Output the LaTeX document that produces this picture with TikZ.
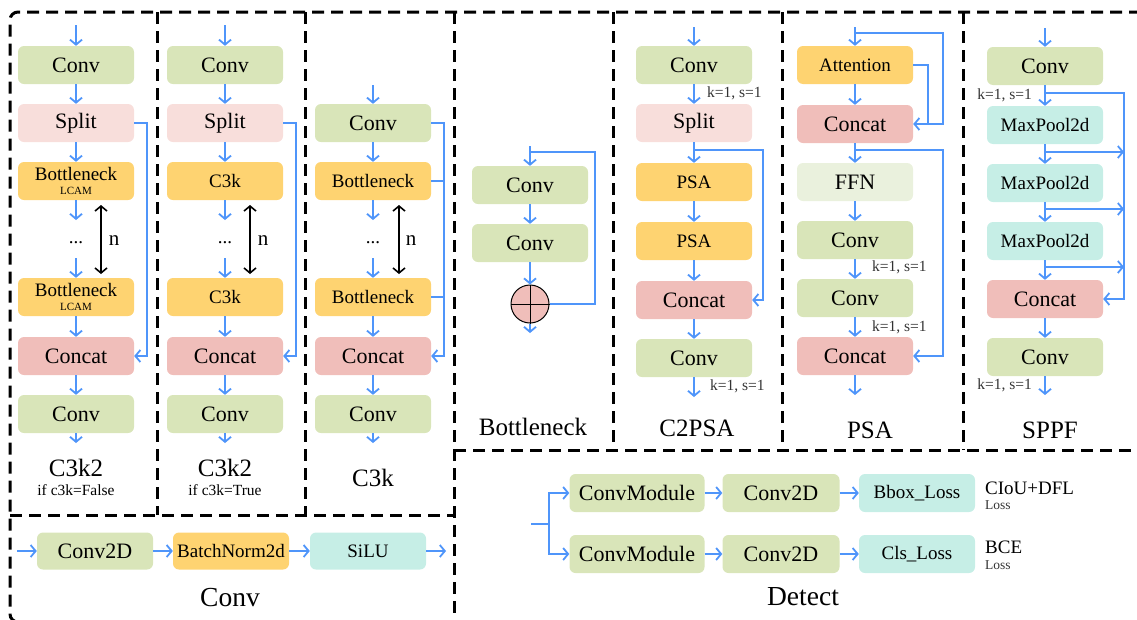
\documentclass[tikz,border=0pt]{standalone}
\usepackage{fontspec}
\setmainfont{Liberation Serif}
\usetikzlibrary{arrows.meta}

\definecolor{cconv}{HTML}{D9E5B9}
\definecolor{csplit}{HTML}{F8DEDB}
\definecolor{cbott}{HTML}{FED371}
\definecolor{cconcat}{HTML}{F0BEBA}
\definecolor{ccyan}{HTML}{C6EEE6}
\definecolor{cffn}{HTML}{EAF1DD}
\definecolor{ablue}{HTML}{4F95FA}
\definecolor{tgray}{HTML}{333333}

% font sizes (1pt = 1px of the final picture)
\newcommand\fza{\fontsize{22}{24}\selectfont}
\newcommand\fzb{\fontsize{19}{21}\selectfont}
\newcommand\fzt{\fontsize{25}{27}\selectfont}
\newcommand\fzT{\fontsize{27.5}{30}\selectfont}
\newcommand\fzk{\fontsize{15.5}{17}\selectfont}
\newcommand\fzs{\fontsize{11}{12}\selectfont}
\newcommand\fzl{\fontsize{13.5}{15}\selectfont}

\begin{document}
\begin{tikzpicture}[x=1pt,y=-1pt,
  blk/.style={rounded corners=6pt, minimum width=116pt, minimum height=38pt,
              inner sep=0pt, text=black, font=\fza},
  small/.style={font=\fzb},
  conv/.style={blk, fill=cconv},
  split/.style={blk, fill=csplit},
  bott/.style={blk, fill=cbott, small},
  concat/.style={blk, fill=cconcat},
  cyan/.style={blk, fill=ccyan, small},
  ffn/.style={blk, fill=cffn},
  barrow/.style={draw=ablue, line width=1.8pt, -{Straight Barb[length=5pt, width=12pt, line width=1.8pt]}},
  bline/.style={draw=ablue, line width=1.8pt},
  karrow/.style={draw=black, line width=1.6pt, {Straight Barb[length=5pt, width=12pt, line width=1.6pt]}-{Straight Barb[length=5pt, width=12pt, line width=1.6pt]}},
  frame/.style={draw=black, line width=3pt, dash pattern=on 12pt off 7pt},
  ttl/.style={font=\fzt, inner sep=0pt},
  sub/.style={font=\fzk, inner sep=0pt},
  kss/.style={font=\fzk, text=tgray, inner sep=0pt},
  dots/.style={font=\fzb, inner sep=0pt},
  nlab/.style={font=\fontsize{21}{22}\selectfont, inner sep=0pt}
]
\useasboundingbox (0,0) rectangle (1137,619);
\clip (0,0) rectangle (1137,619);

% ---------- dashed frames ----------
\draw[frame, rounded corners=8pt] (1160,12) -- (10,12) -- (10,622) -- (1160,622);
\draw[frame] (157,12) -- (157,515);
\draw[frame] (305,12) -- (305,515);
\draw[frame] (454,12) -- (454,622);
\draw[frame] (613,12) -- (613,450);
\draw[frame] (782,12) -- (782,450);
\draw[frame] (963,12) -- (963,450);
\draw[frame] (10,515) -- (454,515);
\draw[frame] (454,450) -- (1160,450);

% ---------- C3k2 (c3k=False) ----------
\coordinate (a0) at (76,25);
\node[conv]   (a1) at (76,65)  {Conv};
\node[split]  (a2) at (76,123) {Split};
\node[bott, align=center] (a3) at (76,181) {Bottleneck\\[-7pt]{\fzs LCAM}};
\node[dots]   (a3d) at (76,243) {...};
\node[bott, align=center] (a4) at (76,297) {Bottleneck\\[-7pt]{\fzs LCAM}};
\node[concat] (a5) at (76,356) {Concat};
\node[conv]   (a6) at (76,414) {Conv};
\coordinate (a7) at (76,443);
\coordinate (a3e) at (76,220);
\coordinate (a4s) at (76,258);
\draw[barrow] (a0) -- (a1.north);
\draw[barrow] (a1.south) -- (a2.north);
\draw[barrow] (a2.south) -- (a3.north);
\draw[barrow] (a3.south) -- (a3e);
\draw[barrow] (a4s) -- (a4.north);
\draw[barrow] (a4.south) -- (a5.north);
\draw[barrow] (a5.south) -- (a6.north);
\draw[barrow] (a6.south) -- (a7);
\draw[barrow] (a2.east) -- ++(13,0) |- (a5.east);
\coordinate (an1) at (101,205);
\coordinate (an2) at (101,274);
\draw[karrow] (an1) -- (an2);
\node[nlab] (an) at (114,241) {n};
\node[ttl] (at) at (76,468) {C3k2};
\node[sub] (as) at (76,490) {if c3k=False};

% ---------- C3k2 (c3k=True) ----------
\coordinate (b0) at (225,25);
\node[conv]   (b1) at (225,65)  {Conv};
\node[split]  (b2) at (225,123) {Split};
\node[bott]   (b3) at (225,181) {C3k};
\node[dots]   (b3d) at (225,243) {...};
\node[bott]   (b4) at (225,297) {C3k};
\node[concat] (b5) at (225,356) {Concat};
\node[conv]   (b6) at (225,414) {Conv};
\coordinate (b7) at (225,443);
\coordinate (b3e) at (225,220);
\coordinate (b4s) at (225,258);
\draw[barrow] (b0) -- (b1.north);
\draw[barrow] (b1.south) -- (b2.north);
\draw[barrow] (b2.south) -- (b3.north);
\draw[barrow] (b3.south) -- (b3e);
\draw[barrow] (b4s) -- (b4.north);
\draw[barrow] (b4.south) -- (b5.north);
\draw[barrow] (b5.south) -- (b6.north);
\draw[barrow] (b6.south) -- (b7);
\draw[barrow] (b2.east) -- ++(13,0) |- (b5.east);
\coordinate (bn1) at (250,205);
\coordinate (bn2) at (250,274);
\draw[karrow] (bn1) -- (bn2);
\node[nlab] (bn) at (263,241) {n};
\node[ttl] (bt) at (225,468) {C3k2};
\node[sub] (bs) at (225,490) {if c3k=True};

% ---------- C3k ----------
\coordinate (c0) at (373,85);
\node[conv]   (c1) at (373,123) {Conv};
\node[bott]   (c2) at (373,181) {Bottleneck};
\node[dots]   (c2d) at (373,243) {...};
\node[bott]   (c3) at (373,297) {Bottleneck};
\node[concat] (c4) at (373,356) {Concat};
\node[conv]   (c5) at (373,414) {Conv};
\coordinate (c6) at (373,443);
\coordinate (c2e) at (373,220);
\coordinate (c3s) at (373,258);
\coordinate (cx) at (444,0);
\draw[barrow] (c0) -- (c1.north);
\draw[barrow] (c1.south) -- (c2.north);
\draw[barrow] (c2.south) -- (c2e);
\draw[barrow] (c3s) -- (c3.north);
\draw[barrow] (c3.south) -- (c4.north);
\draw[barrow] (c4.south) -- (c5.north);
\draw[barrow] (c5.south) -- (c6);
\draw[barrow] (c1.east) -- (c1.east -| cx) |- (c4.east);
\draw[bline] (c2.east) -- (c2.east -| cx);
\draw[bline] (c3.east) -- (c3.east -| cx);
\coordinate (cn1) at (399,205);
\coordinate (cn2) at (399,274);
\draw[karrow] (cn1) -- (cn2);
\node[nlab] (cn) at (411,241) {n};
\node[ttl] (ct) at (373,478) {C3k};

% ---------- Bottleneck ----------
\coordinate (d0) at (530,146);
\coordinate (dj) at (530,152);
\node[conv] (d1) at (530,185) {Conv};
\node[conv] (d2) at (530,243) {Conv};
\node[circle, draw=black, line width=1pt, fill=cconcat, minimum size=38pt, inner sep=0pt] (dp) at (530,304) {};
\draw[line width=1pt] (dp.north) -- (dp.south) (dp.west) -- (dp.east);
\coordinate (d3) at (530,333);
\draw[barrow] (d0) -- (d1.north);
\draw[barrow] (d1.south) -- (d2.north);
\draw[barrow] (d2.south) -- (dp.north);
\draw[barrow] (dp.south) -- (d3);
\draw[bline] (dj) -- (595,152) |- (dp.east);
\node[ttl] (dt) at (533,427) {Bottleneck};

% ---------- C2PSA ----------
\coordinate (p0) at (694,27);
\node[conv]   (p1) at (694,65)  {Conv};
\node[split]  (p2) at (694,123) {Split};
\node[bott]   (p3) at (694,182) {PSA};
\node[bott]   (p4) at (694,241) {PSA};
\node[concat] (p5) at (694,300) {Concat};
\node[conv]   (p6) at (694,358) {Conv};
\coordinate (p7) at (694,397);
\coordinate (pj) at (694,150);
\draw[barrow] (p0) -- (p1.north);
\draw[barrow] (p1.south) -- (p2.north);
\draw[barrow] (p2.south) -- (p3.north);
\draw[barrow] (p3.south) -- (p4.north);
\draw[barrow] (p4.south) -- (p5.north);
\draw[barrow] (p5.south) -- (p6.north);
\draw[barrow] (p6.south) -- (p7);
\draw[barrow] (pj) -- (763,150) |- (p5.east);
\node[kss, anchor=west] (pk1) at (707,93) {k=1, s=1};
\node[kss, anchor=west] (pk2) at (710,386) {k=1, s=1};
\node[ttl] (pt) at (697,428) {C2PSA};

% ---------- PSA ----------
\coordinate (q0) at (855,27);
\coordinate (qj0) at (855,33);
\node[bott]   (q1) at (855,65)  {Attention};
\node[concat] (q2) at (855,124) {Concat};
\node[ffn]    (q3) at (855,182) {FFN};
\node[conv]   (q4) at (855,240) {Conv};
\node[conv]   (q5) at (855,298) {Conv};
\node[concat] (q6) at (855,356) {Concat};
\coordinate (q7) at (855,395);
\coordinate (qj1) at (855,150);
\draw[barrow] (q0) -- (q1.north);
\draw[barrow] (q1.south) -- (q2.north);
\draw[barrow] (q2.south) -- (q3.north);
\draw[barrow] (q3.south) -- (q4.north);
\draw[barrow] (q4.south) -- (q5.north);
\draw[barrow] (q5.south) -- (q6.north);
\draw[barrow] (q6.south) -- (q7);
\draw[barrow] (qj0) -- (943,33) |- (q2.east);
\draw[bline] (q1.east) -- (928,65) -- (928,124);
\draw[barrow] (qj1) -- (943,150) |- (q6.east);
\node[kss, anchor=west] (qk1) at (872,267) {k=1, s=1};
\node[kss, anchor=west] (qk2) at (872,327) {k=1, s=1};
\node[ttl] (qt) at (870,430) {PSA};

% ---------- SPPF ----------
\coordinate (s0) at (1045,28);
\node[conv]   (s1) at (1045,66)  {Conv};
\node[cyan]   (s2) at (1045,125) {MaxPool2d};
\node[cyan]   (s3) at (1045,183) {MaxPool2d};
\node[cyan]   (s4) at (1045,241) {MaxPool2d};
\node[concat] (s5) at (1045,299) {Concat};
\node[conv]   (s6) at (1045,357) {Conv};
\coordinate (s7) at (1045,395);
\coordinate (sj0) at (1045,93);
\coordinate (sj1) at (1045,152);
\coordinate (sj2) at (1045,209);
\coordinate (sj3) at (1045,267);
\coordinate (sx) at (1124,0);
\draw[barrow] (s0) -- (s1.north);
\draw[barrow] (s1.south) -- (s2.north);
\draw[barrow] (s2.south) -- (s3.north);
\draw[barrow] (s3.south) -- (s4.north);
\draw[barrow] (s4.south) -- (s5.north);
\draw[barrow] (s5.south) -- (s6.north);
\draw[barrow] (s6.south) -- (s7);
\draw[barrow] (sj0) -- (sj0 -| sx) |- (s5.east);
\draw[barrow] (sj1) -- (sj1 -| sx);
\draw[barrow] (sj2) -- (sj2 -| sx);
\draw[barrow] (sj3) -- (sj3 -| sx);
\node[kss, anchor=east] (sk1) at (1032,95) {k=1, s=1};
\node[kss, anchor=east] (sk2) at (1032,385) {k=1, s=1};
\node[ttl] (st) at (1050,430) {SPPF};

% ---------- Conv ----------
\coordinate (r0) at (17,551);
\node[conv, minimum height=37pt] (r1) at (95,551)  {Conv2D};
\node[bott, minimum height=37pt] (r2) at (231,551) {BatchNorm2d};
\node[cyan, minimum height=37pt] (r3) at (368,551) {SiLU};
\coordinate (r4) at (446,551);
\draw[barrow] (r0) -- (r1.west);
\draw[barrow] (r1.east) -- (r2.west);
\draw[barrow] (r2.east) -- (r3.west);
\draw[barrow] (r3.east) -- (r4);
\node[font=\fzT, inner sep=0pt] (rt) at (230,598) {Conv};

% ---------- Detect ----------
\coordinate (e0) at (531,524);
\coordinate (ej) at (549,524);
\node[conv, minimum width=135pt] (e1) at (637,493) {ConvModule};
\node[conv, minimum width=117pt] (e2) at (781,493) {Conv2D};
\node[cyan] (e3) at (917,493) {Bbox\_Loss};
\node[conv, minimum width=135pt] (f1) at (637,554) {ConvModule};
\node[conv, minimum width=117pt] (f2) at (781,554) {Conv2D};
\node[cyan] (f3) at (917,554) {Cls\_Loss};
\draw[bline] (e0) -- (ej);
\draw[barrow] (ej) |- (e1.west);
\draw[barrow] (ej) |- (f1.west);
\draw[barrow] (e1.east) -- (e2.west);
\draw[barrow] (e2.east) -- (e3.west);
\draw[barrow] (f1.east) -- (f2.west);
\draw[barrow] (f2.east) -- (f3.west);
\node[font=\fzb, anchor=west, inner sep=0pt] (el) at (985,488) {CIoU+DFL};
\node[font=\fzl, anchor=west, inner sep=0pt, text=tgray] (el2) at (985,505) {Loss};
\node[font=\fzb, anchor=west, inner sep=0pt] (fl) at (985,547) {BCE};
\node[font=\fzl, anchor=west, inner sep=0pt, text=tgray] (fl2) at (985,565) {Loss};
\node[font=\fzT, inner sep=0pt] (et) at (803,597) {Detect};
\end{tikzpicture}
\end{document}
